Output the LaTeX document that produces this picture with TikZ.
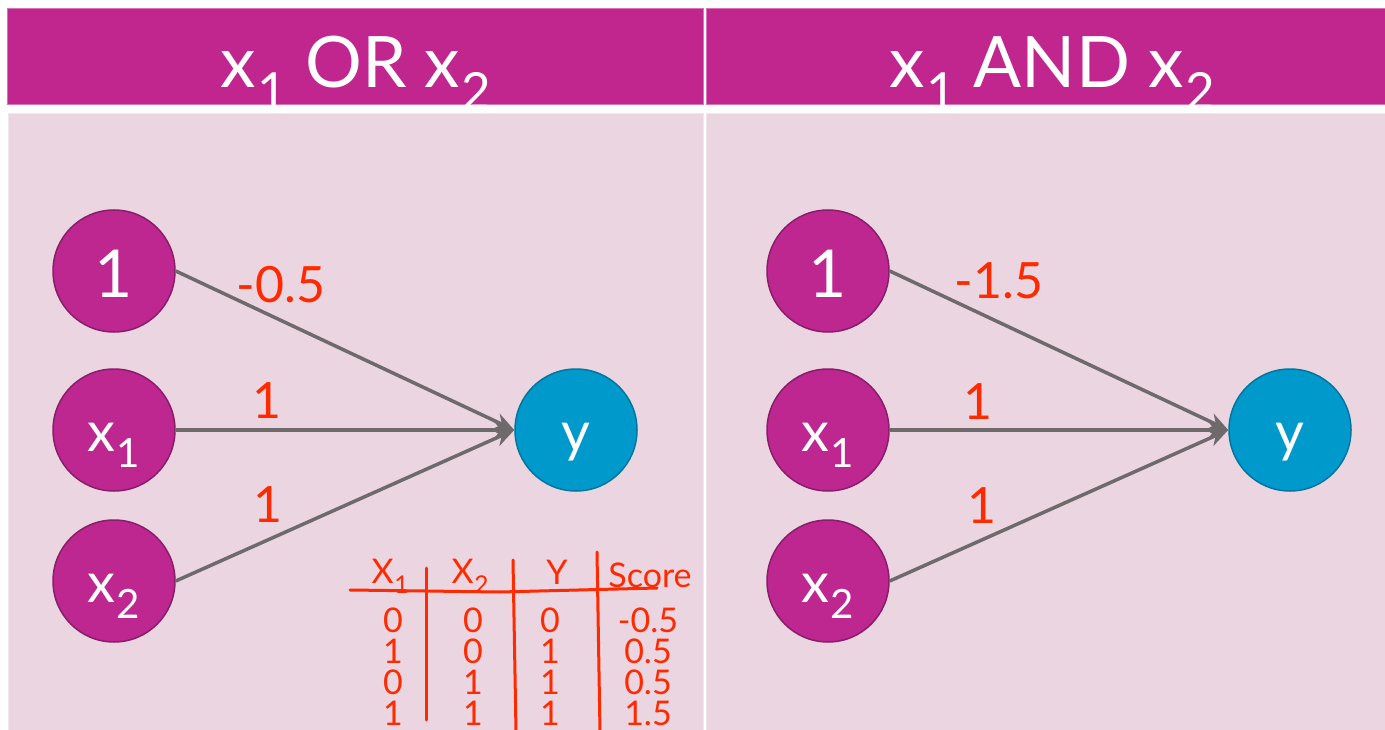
\documentclass[tikz,border=0pt]{standalone}
\usepackage{fontspec}
\setmainfont{Lato}
\usetikzlibrary{arrows.meta}
\definecolor{hdr}{HTML}{C0268E}
\definecolor{hdrline}{HTML}{D873B8}
\definecolor{pnl}{HTML}{EAD5E1}
\definecolor{pnlline}{HTML}{F2E6EE}
\definecolor{nfill}{HTML}{BE2690}
\definecolor{nline}{HTML}{8A1D6A}
\definecolor{yfill}{HTML}{0099CC}
\definecolor{yline}{HTML}{00769E}
\definecolor{wire}{HTML}{6E6A6C}
\definecolor{ink}{HTML}{FF2A00}
\newcommand{\xsub}[2]{#1\kern0.02em\raisebox{-0.3em}{\scalebox{0.72}{#2}}}

\begin{document}
\begin{tikzpicture}[x=1pt,y=-1pt,
  hd/.style={text=white,inner sep=0pt,anchor=base,font=\fontsize{71}{71}\selectfont},
  inp/.style={circle,fill=nfill,draw=nline,line width=1.5pt,minimum size=122pt,inner sep=0pt,
    text=white,text height=56pt,text depth=14pt,font=\fontsize{56}{56}\selectfont},
  big/.style={text height=62pt,text depth=8pt,font=\fontsize{66}{66}\selectfont},
  outp/.style={inp,fill=yfill,draw=yline},
  ed/.style={draw=wire,line width=3.5pt,-{Stealth[length=20pt,width=17pt]}},
  wt/.style={text=ink,inner sep=0pt,font=\fontsize{50}{50}\selectfont},
  tb/.style={text=ink,inner sep=0pt,font=\fontsize{34}{34}\selectfont},
  rule/.style={draw=ink,line width=3pt,line cap=round}]
 \useasboundingbox (0,0) rectangle (1385,730);
 \clip (0,0) rectangle (1385,730);
 \fill[white] (0,0) rectangle (1385,730);
 \filldraw[fill=hdr,draw=hdrline] (7,8) rectangle (703,104);
 \filldraw[fill=hdr,draw=hdrline] (706,8) rectangle (1386,104);
 \filldraw[fill=pnl,draw=pnlline] (8,113) rectangle (703,731);
 \filldraw[fill=pnl,draw=pnlline] (706,113) rectangle (1386,731);
 \node[hd] (hOr)  at (356,88)  {\xsub{x}{1} OR \xsub{x}{2}};
 \node[hd] (hAnd) at (1052,88) {\xsub{x}{1} AND \xsub{x}{2}};

 \node[inp,big] (one) at (114,271) {1};
 \node[inp] (xa)  at (114,430) {\xsub{x}{1}};
 \node[inp] (xb)  at (114,581) {\xsub{x}{2}};
 \node[outp] (yor) at (576,430) {y};
 \node[inp,big] (oneB) at (828,271) {1};
 \node[inp] (xaB)  at (828,430) {\xsub{x}{1}};
 \node[inp] (xbB)  at (828,581) {\xsub{x}{2}};
 \node[outp] (yand) at (1290,430) {y};
 \foreach \a/\b in {one/yor,xa/yor,xb/yor,oneB/yand,xaB/yand,xbB/yand}
   \draw[ed] (\a.east)--(\b.west);

 \node[wt] (wOr0) at (281,285) {-0.5};
 \node[wt] (wOr1) at (267,401) {1};
 \node[wt] (wOr2) at (268,505) {1};
 \node[wt] (wAnd0) at (999,281) {-1.5};
 \node[wt] (wAnd1) at (978,402) {1};
 \node[wt] (wAnd2) at (982,506) {1};

 \node[tb] (tX1) at (390,576) {\xsub{X}{1}};
 \node[tb] (tX2) at (470,576) {\xsub{X}{2}};
 \node[tb] (tY)  at (557,572) {Y};
 \node[tb] (tS)  at (650,575) {Score};
 \foreach \a/\b/\c/\d [count=\i] in {0/0/0/-0.5,1/0/1/0.5,0/1/1/0.5,1/1/1/1.5} {
   \node[tb] (ta\i) at (393,620+31*\i-31) {\a};
   \node[tb] (tb\i) at (473,620+31*\i-31) {\b};
   \node[tb] (tc\i) at (550,620+31*\i-31) {\c};
   \node[tb] (td\i) at (648,620+31*\i-31) {\d};
 }
 \draw[rule] (350,590) -- (500,592) -- (657,588);
 \draw[rule] (426,568) -- (426,720);
 \draw[rule] (513,560) -- (516,732);
 \draw[rule] (597,552) -- (600,732);
\end{tikzpicture}
\end{document}
